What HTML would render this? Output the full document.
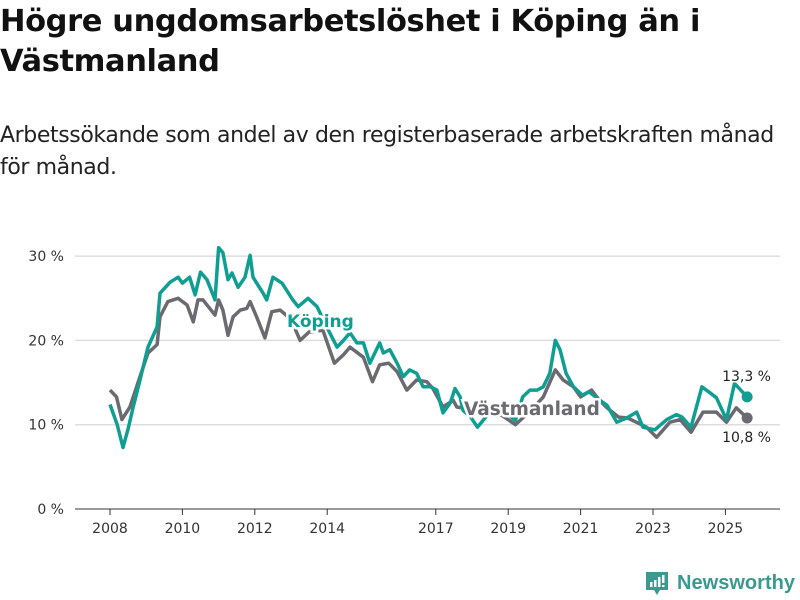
<!DOCTYPE html>
<html><head><meta charset="utf-8">
<style>
body{margin:0;width:800px;height:600px;background:#fff;font-family:"Liberation Sans","DejaVu Sans",sans-serif;overflow:hidden;position:relative}
h1{position:absolute;left:0;top:2px;margin:0;font-size:30.5px;line-height:40px;font-weight:bold;color:#111;font-family:"DejaVu Sans","Liberation Sans",sans-serif;letter-spacing:-0.4px}
.sub{position:absolute;left:0;top:120px;font-size:22px;line-height:32px;color:#222;font-family:"DejaVu Sans","Liberation Sans",sans-serif;letter-spacing:-0.4px}
svg{position:absolute;left:0;top:0}
</style></head><body>
<h1>Högre ungdomsarbetslöshet i Köping än i<br>Västmanland</h1>
<div class="sub">Arbetssökande som andel av den registerbaserade arbetskraften månad<br>för månad.</div>
<svg id="chart" width="800" height="600"></svg>
<svg width="800" height="600" style="pointer-events:none">
<path d="M646 572 h22 v18 h-8 l-3 5 l-3 -5 h-8 z" fill="#3a9a8f"/>
<rect x="650" y="582" width="2.5" height="5" fill="#fff"/><rect x="654" y="580" width="2.5" height="7" fill="#fff"/><rect x="658" y="577" width="2.5" height="10" fill="#fff"/><rect x="662" y="575" width="2.5" height="8" fill="#fff"/><rect x="662" y="585" width="2.5" height="2" fill="#fff"/>
<text x="677" y="589" font-size="20" font-weight="bold" fill="#3a9a8f" font-family="Liberation Sans, sans-serif" textLength="118" lengthAdjust="spacingAndGlyphs">Newsworthy</text>
</svg>
<script>
const yTicks=[0,10,20,30];
const yTickLabels=["0 %","10 %","20 %","30 %"];
const xTicks=[2008,2010,2012,2014,2017,2019,2021,2023,2025];
const kopingT=[2008.0,2008.2,2008.36,2008.5,2008.64,2008.83,2009.05,2009.3,2009.38,2009.66,2009.88,2010.0,2010.2,2010.35,2010.5,2010.68,2010.9,2011.0,2011.12,2011.26,2011.37,2011.54,2011.73,2011.87,2011.95,2012.23,2012.33,2012.5,2012.75,2013.05,2013.2,2013.47,2013.72,2014.0,2014.27,2014.45,2014.63,2014.82,2015.0,2015.18,2015.45,2015.55,2015.73,2015.93,2016.1,2016.28,2016.47,2016.65,2016.85,2017.03,2017.2,2017.4,2017.53,2017.67,2017.75,2017.95,2018.15,2018.4,2018.7,2019.0,2019.2,2019.4,2019.6,2019.8,2019.97,2020.15,2020.3,2020.43,2020.6,2020.8,2021.05,2021.23,2021.5,2021.73,2022.0,2022.27,2022.55,2022.72,2023.05,2023.38,2023.65,2023.8,2024.05,2024.35,2024.57,2024.75,2025.03,2025.25,2025.6];
const kopingV=[12.4,10.0,7.3,9.5,12.1,15.3,19.2,21.6,25.6,26.9,27.5,26.8,27.5,25.4,28.1,27.2,24.8,31.0,30.4,27.2,28.0,26.3,27.5,30.1,27.5,25.6,24.8,27.5,26.8,24.8,24.0,25.0,24.0,21.5,19.2,20.0,20.9,19.7,19.7,17.3,19.7,18.5,18.9,17.3,15.7,16.5,16.1,14.5,14.5,14.1,11.4,12.6,14.3,13.3,11.7,11.0,9.7,11.0,11.5,11.2,10.5,13.3,14.1,14.1,14.5,16.1,20.0,18.9,16.1,14.5,13.5,13.9,13.0,12.3,10.3,10.8,11.5,9.7,9.4,10.6,11.2,10.9,9.7,14.5,13.8,13.2,10.6,14.9,13.3];
const vastT=[2008.0,2008.18,2008.33,2008.55,2008.83,2009.05,2009.3,2009.38,2009.6,2009.88,2010.13,2010.3,2010.43,2010.57,2010.9,2011.0,2011.12,2011.26,2011.4,2011.6,2011.78,2011.87,2012.05,2012.28,2012.47,2012.7,2013.0,2013.25,2013.5,2013.88,2014.2,2014.45,2014.63,2015.0,2015.25,2015.45,2015.7,2015.93,2016.2,2016.47,2016.75,2016.92,2017.2,2017.48,2017.58,2018.0,2018.4,2018.83,2019.2,2019.4,2019.7,2019.97,2020.3,2020.52,2020.8,2021.0,2021.3,2021.5,2021.73,2022.05,2022.3,2022.82,2023.1,2023.47,2023.75,2024.05,2024.38,2024.75,2025.03,2025.3,2025.6];
const vastV=[14.1,13.3,10.6,12.1,15.7,18.5,19.5,22.8,24.6,25.0,24.2,22.2,24.8,24.8,23.0,24.8,23.6,20.6,22.8,23.6,23.8,24.6,22.8,20.3,23.4,23.6,22.5,20.0,21.0,21.2,17.3,18.3,19.2,18.0,15.1,17.1,17.3,16.3,14.1,15.3,15.1,14.3,12.1,12.9,12.1,11.8,11.5,11.1,10.0,10.8,12.0,13.3,16.5,15.3,14.5,13.3,14.1,13.0,12.0,10.9,10.8,9.7,8.5,10.3,10.6,9.1,11.5,11.5,10.3,12.0,10.8];
const NS="http://www.w3.org/2000/svg";
const svg=document.getElementById('chart');
const X=t=>110+(t-2008)*36.2;
const Y=v=>509-v*8.43;
function mk(tag,attrs){const e=document.createElementNS(NS,tag);for(const k in attrs)e.setAttribute(k,attrs[k]);svg.appendChild(e);return e;}
yTicks.forEach((v,i)=>{
  const g=mk('line',{x1:75,x2:780,y1:Y(v),y2:Y(v),stroke:v===0?'#333':'#ddd','stroke-width':v===0?1:1.5});
  
  
  const t=mk('text',{x:64,y:Y(v)+5,'text-anchor':'end','font-size':14,fill:'#333','font-family':'DejaVu Sans, Liberation Sans, sans-serif'});
  t.textContent=yTickLabels[i];
  
  
});
xTicks.forEach(yr=>{
  const l=mk('line',{x1:X(yr),x2:X(yr),y1:509,y2:515,stroke:'#333'});
  
  
  const t=mk('text',{x:X(yr),y:533,'text-anchor':'middle','font-size':14,fill:'#333','font-family':'DejaVu Sans, Liberation Sans, sans-serif'});
  t.textContent=yr;
  
  
});
function line(T,V,color,name){
  const d=T.map((t,i)=>(i?'L':'M')+X(t).toFixed(1)+' '+Y(V[i]).toFixed(1)).join(' ');
  const p=mk('path',{d:d,fill:'none',stroke:color,'stroke-width':3.5,'stroke-linejoin':'round'});
  
  
  const n=T.length-1;
  const c=mk('circle',{cx:X(T[n]),cy:Y(V[n]),r:5.5,fill:color});
  
  
}
line(vastT,vastV,'#6b6a70','vastmanland');
line(kopingT,kopingV,'#0f9e91','koping');
function label(x,y,txt,color,name,bold,size,anchor){
  const t=mk('text',{x:x,y:y,'font-size':size,'font-weight':bold?'bold':'normal',fill:color,'text-anchor':anchor||'start',stroke:'#fff','stroke-width':bold?5:3,'paint-order':'stroke','font-family':'DejaVu Sans, Liberation Sans, sans-serif'});
  t.textContent=txt;
  
  
}
label(287,327,'Köping','#0f9e91','koping-label',true,17);
label(464,415,'Västmanland','#6b6a70','vastmanland-label',true,18.5);
label(771,381,'13,3 %','#222','koping-end-value',false,14,'end');
label(771,442,'10,8 %','#222','vastmanland-end-value',false,14,'end');
</script>
</body></html>
